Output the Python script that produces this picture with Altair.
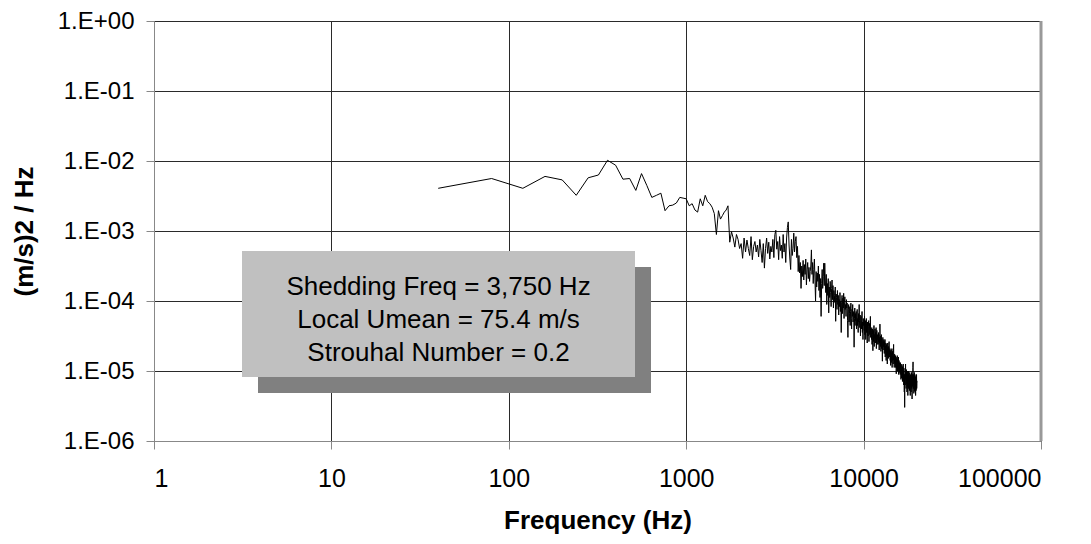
import altair as alt
import numpy as np
import pandas as pd

# Spectrum: 40 Hz bins, values given as log10 of (m/s)^2/Hz, one row per 1000 Hz
bin_width_hz = 40
log_psd_rows = [
    [-2.39,-2.25,-2.39,-2.22,-2.27,-2.49,-2.24,-2.20,-1.99,-2.06,-2.26,-2.25,-2.42,-2.18,-2.35,-2.52,-2.49,-2.46,-2.71,-2.64,-2.63,-2.60,-2.52,-2.53,-2.54],
    [-2.64,-2.61,-2.70,-2.73,-2.54,-2.64,-2.49,-2.58,-2.61,-2.66,-2.75,-3.05,-2.71,-2.83,-2.78,-2.73,-2.70,-2.64,-3.16,-3.01,-3.10,-3.23,-3.05,-3.12,-3.25],
    [-3.18,-3.39,-3.10,-3.30,-3.13,-3.25,-3.35,-3.08,-3.41,-3.22,-3.15,-3.30,-3.20,-3.37,-3.12,-3.28,-3.45,-3.18,-3.53,-3.25,-3.10,-3.32,-3.16,-3.40,-3.22],
    [-3.30,-3.12,-3.38,-3.05,-2.99,-3.26,-3.15,-3.41,-3.08,-3.28,-3.20,-3.39,-3.05,-3.30,-3.18,-3.45,-3.10,-2.95,-2.87,-3.20,-3.40,-3.55,-3.12,-3.35,-3.25],
    [-3.03,-3.30,-3.15,-3.08,-3.38,-3.22,-3.58,-3.35,-3.60,-3.45,-3.82,-3.50,-3.65,-3.42,-3.70,-3.48,-3.62,-3.40,-3.77,-3.55,-3.45,-3.68,-3.52,-3.72,-3.58],
    [-3.50,-3.27,-3.62,-3.45,-3.75,-3.55,-3.40,-3.70,-4.00,-3.58,-3.80,-3.60,-3.72,-3.50,-3.85,-3.62,-3.95,-3.68,-4.22,-3.75,-3.55,-3.82,-3.65,-3.46,-3.78],
    [-3.46,-3.70,-3.88,-3.62,-4.05,-3.75,-3.92,-3.68,-4.17,-3.80,-3.95,-3.72,-3.88,-4.08,-3.82,-3.70,-3.98,-3.78,-4.10,-3.85,-3.92,-4.02,-3.80,-4.29,-3.90],
    [-3.95,-4.12,-3.85,-4.05,-3.92,-4.20,-3.98,-4.08,-3.88,-4.15,-4.00,-4.45,-4.02,-3.92,-4.18,-3.96,-4.10,-3.89,-4.25,-4.02,-3.94,-4.12,-4.05,-4.22,-3.98],
    [-4.10,-4.03,-4.28,-4.52,-4.12,-4.05,-4.30,-4.18,-4.08,-4.35,-4.15,-4.03,-4.25,-4.40,-4.12,-4.22,-4.05,-4.30,-4.20,-4.15,-4.66,-4.25,-4.10,-4.35,-4.18],
    [-4.28,-4.15,-4.40,-4.22,-4.12,-4.35,-4.25,-4.45,-4.18,-4.30,-4.05,-4.28,-4.38,-4.20,-4.50,-4.32,-4.22,-4.40,-4.28,-4.15,-4.45,-4.30,-4.55,-4.25,-4.35],
    [-4.30,-4.42,-4.22,-4.48,-4.35,-4.28,-4.55,-4.38,-4.25,-4.45,-4.33,-4.60,-4.30,-4.42,-4.50,-4.36,-4.28,-4.58,-4.40,-4.32,-4.48,-4.38,-4.22,-4.52,-4.40],
    [-4.45,-4.55,-4.38,-4.62,-4.48,-4.40,-4.71,-4.50,-4.42,-4.58,-4.35,-4.65,-4.48,-4.52,-4.40,-4.60,-4.45,-4.55,-4.38,-4.68,-4.50,-4.42,-4.62,-4.48,-4.55],
    [-4.50,-4.62,-4.45,-4.58,-4.48,-4.70,-4.52,-4.60,-4.33,-4.55,-4.65,-4.50,-4.72,-4.58,-4.48,-4.68,-4.55,-4.62,-4.86,-4.60,-4.52,-4.70,-4.58,-4.65,-4.55],
    [-4.62,-4.75,-4.58,-4.70,-4.55,-4.80,-4.65,-4.72,-4.60,-4.85,-4.68,-4.62,-4.78,-4.66,-4.90,-4.70,-4.60,-4.76,-4.68,-4.82,-4.65,-4.72,-4.58,-4.80,-4.70],
    [-4.75,-4.68,-4.85,-4.72,-4.92,-4.78,-4.70,-4.88,-4.75,-4.82,-4.68,-4.95,-4.78,-4.72,-4.85,-4.80,-4.90,-4.74,-4.62,-4.84,-4.78,-4.95,-4.82,-4.76,-4.88],
    [-4.82,-4.90,-4.78,-4.95,-4.85,-4.80,-5.04,-4.88,-4.82,-4.96,-4.86,-4.78,-5.00,-4.90,-4.84,-4.98,-4.88,-4.80,-5.05,-4.92,-4.85,-4.96,-4.88,-5.02,-4.90],
    [-4.92,-5.05,-4.88,-5.00,-4.95,-5.12,-4.90,-5.02,-4.96,-5.10,-4.92,-5.05,-4.98,-5.15,-4.94,-5.08,-5.00,-4.90,-5.12,-5.02,-5.20,-4.96,-5.10,-5.30,-5.05],
    [-5.52,-5.15,-5.05,-5.20,-4.98,-4.90,-5.12,-5.02,-5.25,-5.08,-4.98,-5.18,-5.05,-5.30,-5.10,-5.00,-5.22,-5.08,-5.35,-5.05,-5.15,-5.00,-5.25,-5.12,-5.05],
    [-5.18,-5.08,-5.28,-5.12,-5.02,-5.23,-5.10,-5.35,-5.15,-5.05,-5.20,-5.12,-5.30,-5.08,-5.18,-5.02,-5.25,-5.10,-5.40,-5.15,-5.05,-5.22,-5.10,-4.95,-4.87],
    [-5.15,-5.05,-5.25,-5.10,-5.32,-5.08,-5.20,-5.02,-5.28,-5.12,-5.22,-5.05,-5.30,-5.15,-5.08,-5.35,-5.18,-5.10,-5.28,-5.12,-5.22,-5.05,-5.25,-5.18,-5.14],
]

x_ticks = [1, 10, 100, 1000, 10000, 100000]
y_ticks = [1e-6, 1e-5, 1e-4, 1e-3, 1e-2, 1e-1, 1]
annotation_lines = ["Shedding Freq = 3,750 Hz", "Local Umean = 75.4 m/s", "Strouhal Number  = 0.2"]

log_psd = np.concatenate([np.array(r) for r in log_psd_rows])
freq = bin_width_hz * np.arange(1, len(log_psd) + 1)
df = pd.DataFrame({"f": freq, "psd": 10.0 ** log_psd})
one = pd.DataFrame({"k": [0]})

FONT = "Liberation Sans"
W, H = 887, 420
GRID = "#2a2a2a"

x_enc = alt.X(
    "f:Q",
    scale=alt.Scale(type="log", domain=[1, 100000]),
    axis=alt.Axis(
        values=x_ticks, format="d", title="Frequency (Hz)",
        labelFontSize=25, labelPadding=17, tickSize=8,
        titleFontSize=26, titleFontWeight="bold",
        titleBaseline="alphabetic", titleY=87, titleX=W / 2,
        grid=True, gridColor=GRID, gridOpacity=1, gridWidth=1,
    ),
)
y_enc = alt.Y(
    "psd:Q",
    scale=alt.Scale(type="log", domain=[1e-6, 1]),
    axis=alt.Axis(
        values=y_ticks,
        labelExpr="'1.E' + (datum.value >= 1 ? '+00' : '-0' + (-round(log(datum.value)/LN10)))",
        title="(m/s)2 / Hz",
        labelFontSize=24, labelPadding=12, tickSize=8,
        titleFontSize=26, titleFontWeight="bold",
        titleBaseline="alphabetic", titleX=-122, titleY=H / 2, titleAngle=-90,
        grid=True, gridColor=GRID, gridOpacity=1, gridWidth=1,
    ),
)

line = alt.Chart(df).mark_line(color="black", strokeWidth=1).encode(x=x_enc, y=y_enc)

shadow = alt.Chart(one).mark_rect(color="#808080").encode(
    x=alt.value(104), x2=alt.value(497), y=alt.value(246), y2=alt.value(372)
)
box = alt.Chart(one).mark_rect(color="#c0c0c0").encode(
    x=alt.value(88), x2=alt.value(481), y=alt.value(230), y2=alt.value(356)
)
txt = alt.Chart(one).mark_text(
    font=FONT, fontSize=26, color="black", align="center", baseline="middle",
    lineBreak="\n", lineHeight=33,
).encode(
    x=alt.value(284.5), y=alt.value(266),
    text=alt.value("\n".join(annotation_lines)),
)
border = alt.Chart(one).mark_rule(color="#999999", strokeWidth=3).encode(
    x=alt.value(W), y=alt.value(0), y2=alt.value(H)
)

chart = alt.layer(shadow, box, txt, line, border).properties(
    width=W, height=H,
    autosize=alt.AutoSizeParams(type="none"),
    padding={"left": 146, "top": 13, "right": 40, "bottom": 95},
).configure_view(stroke=None).configure_axis(
    labelFont=FONT, titleFont=FONT, labelColor="black", titleColor="black",
    domainColor="black", domainWidth=1.5, tickColor="black", tickWidth=1,
).configure(background="white")

chart.save("out.html", embed_options={"renderer": "svg", "actions": False})
